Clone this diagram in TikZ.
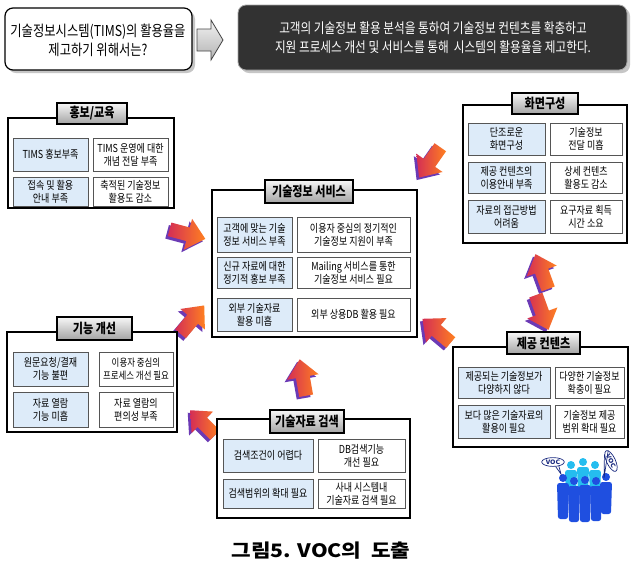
\documentclass[tikz,border=0pt]{standalone}
\usepackage{fontspec}
\setmainfont{Noto Sans CJK KR}[FakeStretch=0.82]
\newfontfamily\capfont{Noto Sans CJK KR}[FakeStretch=1.15]
\usetikzlibrary{shapes.geometric}

\definecolor{cellblue}{HTML}{DDEBF9}
\definecolor{cellline}{HTML}{555555}
\definecolor{arrowA}{HTML}{FF8020}
\definecolor{arrowB}{HTML}{D42E55}
\definecolor{arrowside}{HTML}{6B3AB5}
\definecolor{bannerfill}{HTML}{323232}
\definecolor{crowdback}{HTML}{25BDEF}
\definecolor{crowdfront}{HTML}{1F4FE0}
\definecolor{bubbleline}{HTML}{1A2A80}

\tikzset{
  outerbox/.style={draw=black, line width=1.6pt, fill=white},
  titletab/.style={draw=black, line width=1.3pt, top color=gray!6, bottom color=gray!72},
  titletext/.style={font=\bfseries\fontsize{13.5}{15}\selectfont, inner sep=0pt},
  bluecell/.style={draw=cellline, line width=0.9pt, fill=cellblue},
  whitecell/.style={draw=cellline, line width=0.9pt, fill=white},
  celltext/.style={align=center, inner sep=0pt, text=black,
    font=\fontsize{11}{12.8}\selectfont},
  smallcelltext/.style={celltext, font=\fontsize{10.3}{12.8}\selectfont},
}

% a cell: name, x1, y1, x2, y2, style, text
\newcommand\cellbox[7]{%
  \path[#6] (#2,#3) rectangle (#4,#5);
  \node[celltext] (#1) at ({(#2+#4)/2},{(#3+#5)/2}) {#7};}

% a raised block arrow: x, y, direction (degrees), scale
\newcommand\arrowshape{(-18,-7) -- (1,-7) -- (1,-16) -- (19,0) -- (1,16) -- (1,7) -- (-18,7) -- cycle}
\newcommand\bigarrow[4]{%
  \fill[arrowside, shift={({#1-2.5},{#2+2.5})}, rotate=#3, scale=#4] \arrowshape;
  \shade[shift={(#1,#2)}, rotate=#3, scale=#4, left color=arrowB, right color=arrowA] \arrowshape;}

% a standing figure: x, head y, feet y, colour
\newcommand\crowdfigure[4]{%
  \fill[#4] (#1,#2) circle (4);
  \fill[#4, rounded corners=2.5] ({#1-6},{#2+5}) -- ({#1+6},{#2+5}) -- ({#1+5},{#3}) -- ({#1-5},{#3}) -- cycle;}

\begin{document}
\begin{tikzpicture}[x=1pt, y=-1pt]
\useasboundingbox (0,0) rectangle (632,566);
\fill[white] (0,0) rectangle (632,566);

% ---------- heading ----------
\fill[gray!45, rounded corners=8] (8,11) rectangle (195,73);
\draw[line width=1.2pt, fill=white, rounded corners=8] (5,8) rectangle (192,70);
\node[align=center, font=\fontsize{15}{19}\selectfont] (question) at (98,40)
  {기술정보시스템(TIMS)의 활용율을\\제고하기 위해서는?};

\shade[draw=gray!55!black, line width=0.8pt, top color=gray!10, bottom color=gray!60]
  (197,29) -- (211,29) -- (211,20) -- (223,40) -- (211,60) -- (211,51) -- (197,51) -- cycle;

\fill[gray!45, rounded corners=8] (241,8) rectangle (630,73);
\draw[draw=gray!70, line width=0.8pt, fill=bannerfill, rounded corners=8] (238,5) rectangle (627,70);
\node[align=center, text=white, font=\fontsize{14.2}{19}\selectfont] (answer) at (433,38)
  {고객의 기술정보 활용 분석을 통하여 기술정보 컨텐츠를 확충하고\\
   지원 프로세스 개선 및 서비스를 통해\ \ 시스템의 활용율을 제고한다.};

% ---------- arrows between the groups ----------
\bigarrow{187}{234}{-15}{1}
\bigarrow{192}{320}{50}{1}
\bigarrow{430}{162}{-125}{1}
\bigarrow{303}{378}{100}{1}
\bigarrow{203}{423}{135}{0.95}
\bigarrow{437}{331}{140}{1}
\bigarrow{542}{272}{110}{1}
\bigarrow{542}{312}{-70}{1}

% ---------- 홍보/교육 ----------
\draw[outerbox] (8,118) rectangle (174,208);
\draw[titletab] (57,103) rectangle (127,124);
\node[titletext] (hbTitle) at (92,113.5) {홍보/교육};
\cellbox{hb11}{13}{138}{88}{171}{bluecell}{TIMS 홍보부족}
\cellbox{hb12}{93}{138}{168}{171}{whitecell}{TIMS 운영에 대한\\개념 전달 부족}
\cellbox{hb21}{13}{177}{88}{206}{bluecell}{접속 및 활용\\안내 부족}
\cellbox{hb22}{93}{177}{168}{206}{whitecell}{축적된 기술정보\\활용도 감소}

% ---------- 화면구성 ----------
\draw[outerbox] (463,105) rectangle (627,243);
\draw[titletab] (512,93) rectangle (578,114);
\node[titletext] (hmTitle) at (545,103.5) {화면구성};
\cellbox{hm11}{468}{123}{545}{155}{bluecell}{단조로운\\화면구성}
\cellbox{hm12}{550}{123}{622}{155}{whitecell}{기술정보\\전달 미흡}
\cellbox{hm21}{468}{162}{545}{193}{bluecell}{제공 컨텐츠의\\이용안내 부족}
\cellbox{hm22}{550}{162}{622}{193}{whitecell}{상세 컨텐츠\\활용도 감소}
\cellbox{hm31}{468}{200}{545}{233}{bluecell}{자료의 접근방법\\어려움}
\cellbox{hm32}{550}{200}{622}{233}{whitecell}{요구자료 획득\\시간 소요}

% ---------- 기술정보 서비스 ----------
\draw[outerbox] (212,190) rectangle (417,337);
\draw[titletab] (265,180) rectangle (353,203);
\node[titletext] (svTitle) at (309,191.5) {기술정보 서비스};
\cellbox{sv11}{217}{217}{292}{252}{bluecell}{고객에 맞는 기술\\정보 서비스 부족}
\cellbox{sv12}{297}{217}{410}{252}{whitecell}{이용자 중심의 정기적인\\기술정보 지원이 부족}
\cellbox{sv21}{217}{257}{292}{288}{bluecell}{신규 자료에 대한\\정기적 홍보 부족}
\cellbox{sv22}{297}{257}{410}{288}{whitecell}{Mailing 서비스를 통한\\기술정보 서비스 필요}
\cellbox{sv31}{217}{298}{292}{331}{bluecell}{외부 기술자료\\활용 미흡}
\cellbox{sv32}{297}{298}{410}{331}{whitecell}{외부 상용DB 활용 필요}

% ---------- 기능 개선 ----------
\draw[outerbox] (7,332) rectangle (177,432);
\draw[titletab] (57,317) rectangle (132,340);
\node[titletext] (fnTitle) at (94.5,328.5) {기능 개선};
\cellbox{fn11}{13}{352}{88}{386}{bluecell}{원문요청/결재\\기능 불편}
\path[whitecell] (99,352) rectangle (173,386);
\node[smallcelltext] (fn12) at (136,369) {이용자 중심의\\프로세스 개선 필요};
\cellbox{fn21}{13}{392}{88}{427}{bluecell}{자료 열람\\기능 미흡}
\cellbox{fn22}{99}{392}{173}{427}{whitecell}{자료 열람의\\편의성 부족}

% ---------- 제공 컨텐츠 ----------
\draw[outerbox] (453,347) rectangle (628,447);
\draw[titletab] (507,332) rectangle (580,354);
\node[titletext] (ctTitle) at (543.5,343) {제공 컨텐츠};
\cellbox{ct11}{458}{367}{550}{398}{bluecell}{제공되는 기술정보가\\다양하지 않다}
\cellbox{ct12}{555}{367}{624}{398}{whitecell}{다양한 기술정보\\확충이 필요}
\cellbox{ct21}{458}{405}{550}{438}{bluecell}{보다 많은 기술자료의\\활용이 필요}
\cellbox{ct22}{555}{405}{624}{438}{whitecell}{기술정보 제공\\범위 확대 필요}

% ---------- 기술자료 검색 ----------
\draw[outerbox] (217,419) rectangle (410,518);
\draw[titletab] (270,410) rectangle (344,433);
\node[titletext] (srTitle) at (307,421.5) {기술자료 검색};
\cellbox{sr11}{223}{439}{313}{472}{bluecell}{검색조건이 어렵다}
\cellbox{sr12}{318}{439}{405}{472}{whitecell}{DB검색기능\\개선 필요}
\cellbox{sr21}{223}{479}{313}{508}{bluecell}{검색범위의 확대 필요}
\cellbox{sr22}{318}{479}{405}{508}{whitecell}{사내 시스템내\\기술자료 검색 필요}

% ---------- crowd with speech bubbles ----------
\crowdfigure{571}{465}{495}{crowdback}
\crowdfigure{583}{462}{495}{crowdback}
\crowdfigure{595}{465}{495}{crowdback}
\crowdfigure{563}{478}{519}{crowdfront}
\crowdfigure{574}{481}{522}{crowdfront}
\crowdfigure{585}{480}{522}{crowdfront}
\crowdfigure{596}{481}{521}{crowdfront}
\crowdfigure{606}{477}{514}{crowdfront}

\node[ellipse, draw=bubbleline, line width=0.7pt, fill=white, inner sep=0.8pt,
      font=\capfont\bfseries\fontsize{6}{7}\selectfont, text=bubbleline] (voc1) at (553,462) {VOC};
\coordinate (voc1tail) at (561,474);
\draw[bubbleline, line width=0.7pt] (voc1.-60) -- (voc1tail) -- (voc1.-35);
\node[ellipse, draw=bubbleline, line width=0.7pt, fill=white, inner sep=0.8pt, rotate=-65,
      font=\capfont\bfseries\fontsize{6}{7}\selectfont, text=bubbleline] (voc2) at (611,461) {VOC};
\coordinate (voc2tail) at (604,478);
\draw[bubbleline, line width=0.7pt] (voc2.-160) -- (voc2tail) -- (voc2.170);

% ---------- caption ----------
\node[font=\capfont\bfseries\fontsize{18.5}{21}\selectfont] (caption) at (321,551) {그림5. VOC의\ \ 도출};
\end{tikzpicture}
\end{document}
